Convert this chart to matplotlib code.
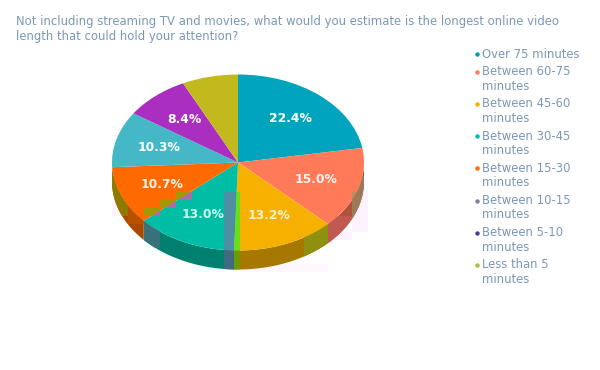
import numpy as np
import matplotlib
matplotlib.use('Agg')
import matplotlib.pyplot as plt
from matplotlib.patches import Rectangle

title_lines = ['Not including streaming TV and movies, what would you estimate is the longest online video',
               'length that could hold your attention?']
categories = ['Over 75 minutes', 'Between 60-75\nminutes', 'Between 45-60\nminutes', 'Between 30-45\nminutes',
              'Between 15-30\nminutes', 'Between 10-15\nminutes', 'Between 5-10\nminutes', 'Less than 5\nminutes']
values = [22.4, 15.0, 13.2, 13.0, 10.7, 10.3, 8.4, 7.2]
slice_colors = ['#00A4BD', '#FF7A59', '#F5B000', '#00BDA5', '#FF6A00', '#45B8C8', '#AA2EC0', '#C2B91E']
legend_colors = ['#00A0B0', '#FF7A59', '#F5B000', '#00BDA5', '#FF6A00', '#7C7FA8', '#4B3A9A', '#A2C13C']
label_colors = ['#FFFFFF', '#FFF4EE', '#FFF2CC', '#CCFFF2', '#FFF4E8', '#FFFFFF', '#FFFFFF', '#FFFFFF']
text_color = '#7C98B6'

W, H = 600, 370
cx, cy, rx, ry, depth = 238, 162.5, 126, 88, 19

fig = plt.figure(figsize=(6, 3.7), dpi=100)


def pixel_axes(z):
    a = fig.add_axes([0, 0, 1, 1], facecolor='none', zorder=z)
    a.set_xlim(0, W)
    a.set_ylim(H, 0)
    a.axis('off')
    return a


# the reference is a blocky jpeg: pale halos behind the pie, tinted blocks on top
under = pixel_axes(0)
over = pixel_axes(2)
for x, y, w, h, c in [(112, 200, 16, 16, '#FEF2FD'), (128, 216, 16, 8, '#FEF2FD'), (144, 240, 16, 8, '#EEFFFF'),
                      (160, 248, 32, 8, '#EEFFFF'), (192, 256, 32, 16, '#EEFFFF'), (240, 264, 88, 8, '#FEF7FE'),
                      (328, 232, 24, 8, '#FEF2FE'), (352, 192, 16, 40, '#FEF2FE')]:
    under.add_patch(Rectangle((x, y), w, h, color=c, lw=0))

# pie box in pixels, y from the top
ax = fig.add_axes([(cx - rx) / W, 1 - (cy + ry + depth) / H, 2 * rx / W, (2 * ry + depth) / H], zorder=1)
wedges, texts, autotexts = ax.pie(values, colors=slice_colors, startangle=90, counterclock=False, radius=1,
                                  autopct=lambda p: f'{p:.1f}%' if p > 8 else '', pctdistance=0.65,
                                  textprops=dict(color='white', fontweight='bold', fontsize=8.9))
for t, c in zip(autotexts, label_colors):
    t.set_color(c)
ax.set_aspect('auto')
ax.set_xlim(-1, 1)
ax.set_ylim(-1 - depth / ry, 1)

# side wall, front half only
d = depth / ry
walls = {}
for i, (w, c) in enumerate(zip(wedges, slice_colors)):
    a = np.radians(np.linspace(w.theta1, w.theta2, 80))
    a = a[np.sin(a) <= 0]
    if len(a) < 2:
        continue
    xs = np.concatenate([np.cos(a), np.cos(a[::-1])])
    ys = np.concatenate([np.sin(a), np.sin(a[::-1]) - d])
    dark = tuple(v * 0.68 for v in matplotlib.colors.to_rgb(c))
    walls[i] = ax.fill(xs, ys, color=dark, lw=0, zorder=0)[0]

top_blocks = [(3, 224, 192, 16, 60, '#4E8FA3'), (2, 224, 192, 16, 60, '#66E01A'),
              (4, 176, 192, 16, 8, '#A39A00'), (3, 176, 192, 16, 8, '#A86EA8'),
              (4, 160, 200, 16, 8, '#A39A00'), (3, 160, 200, 16, 8, '#A86EA8'),
              (4, 144, 208, 16, 8, '#A39A00'), (3, 144, 208, 16, 8, '#A86EA8'),
              (1, 352, 192, 16, 16, '#C08868')]
wall_blocks = [(3, 224, 240, 16, 32, '#3F6A80'), (2, 224, 240, 16, 32, '#6E9A00'),
               (4, 112, 176, 16, 40, '#8F7A00'), (4, 128, 192, 16, 32, '#B85000'),
               (3, 144, 216, 16, 32, '#3A7078'),
               (2, 304, 216, 24, 56, '#8F8F10'), (1, 328, 216, 24, 32, '#C05A50'),
               (1, 352, 176, 16, 56, '#9B7A55')]
for i, x, y, w, h, c in top_blocks:
    over.add_patch(Rectangle((x, y), w, h, color=c, lw=0, clip_path=wedges[i]))
for i, x, y, w, h, c in wall_blocks:
    over.add_patch(Rectangle((x, y), w, h, color=c, lw=0, clip_path=walls[i]))

for i, line in enumerate(title_lines):
    over.text(15.5, 21.7 + i * 15, line, color=text_color, fontsize=8.4, va='center', ha='left')

y = 54
for cat, c in zip(categories, legend_colors):
    lines = cat.split('\n')
    over.plot([477], [y], 'o', color=c, ms=3.2, mew=0)
    for i, line in enumerate(lines):
        over.text(482, y + i * 14.5, line, color=text_color, fontsize=8.4, va='center', ha='left')
    y += 32.2 if len(lines) > 1 else 17.7

fig.savefig('out.png', dpi=100)
